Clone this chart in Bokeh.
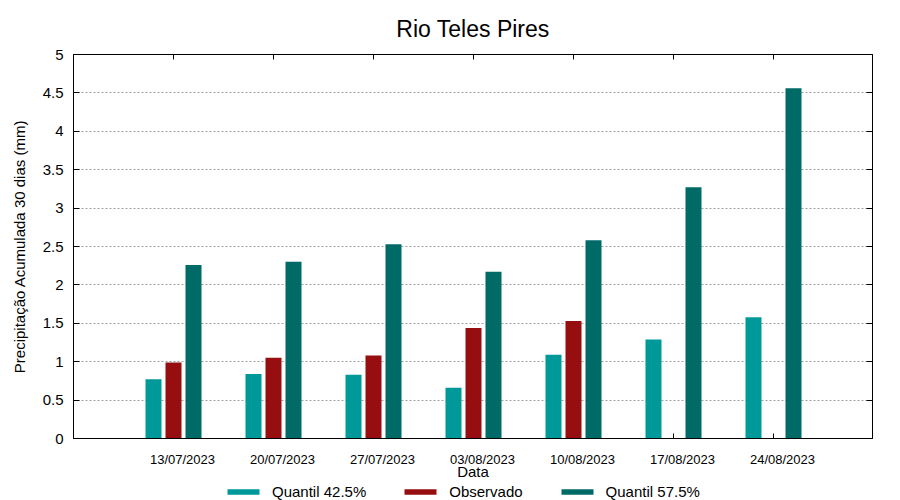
import numpy as np
from bokeh.plotting import figure
from bokeh.layouts import column
from bokeh.models import (Range1d, LinearAxis, FixedTicker, Legend, LegendItem,
                          CustomLabelingPolicy)
from bokeh.embed import file_html
from bokeh.resources import INLINE

# ---- data ----
title_text = "Rio Teles Pires"
dates = ["13/07/2023", "20/07/2023", "27/07/2023", "03/08/2023",
         "10/08/2023", "17/08/2023", "24/08/2023"]
quantil_425 = [0.77, 0.84, 0.83, 0.66, 1.09, 1.29, 1.58]
observado = [0.99, 1.05, 1.08, 1.44, 1.53, float("nan"), float("nan")]
quantil_575 = [2.26, 2.30, 2.53, 2.17, 2.58, 3.27, 4.56]
series_names = ["Quantil 42.5%", "Observado", "Quantil 57.5%"]
y_ticks = [0, 0.5, 1, 1.5, 2, 2.5, 3, 3.5, 4, 4.5, 5]
y_tick_labels = ["0", "0.5", "1", "1.5", "2", "2.5", "3", "3.5", "4", "4.5", "5"]
x_label = "Data"
y_label = "Precipitação Acumulada 30 dias (mm)"

FONT = "Liberation Sans"
COLORS = ["#009999", "#970e10", "#006a67"]
series_values = [quantil_425, observado, quantil_575]

x = np.arange(len(dates), dtype=float)
label_shift = 0.09
Y0, Y1 = 0, 5
tick_len = (Y1 - Y0) * 5 / 385.0
off = 0.2
w = 0.16
offsets = [-off, 0.0, off]

p = figure(width=900, height=482, output_backend="svg", toolbar_location=None,
           x_range=Range1d(-1.0, 6.99), y_range=Range1d(Y0, Y1),
           min_border_left=73, min_border_right=28, min_border_top=54,
           min_border_bottom=43, x_axis_label=x_label, y_axis_label=y_label)

p.title.text = title_text
p.title.text_font = FONT
p.title.text_font_size = "23px"
p.title.text_font_style = "normal"
p.title.text_color = "black"
p.title.align = "center"
p.title.standoff = 25

p.outline_line_color = "black"
p.outline_line_alpha = 1

# inner ticks at group centres on bottom and top borders
n = len(x)
p.segment(x0=x, y0=[Y0] * n, x1=x, y1=[Y0 + tick_len] * n,
          line_color="black", line_width=1)
p.segment(x0=x, y0=[Y1] * n, x1=x, y1=[Y1 - tick_len] * n,
          line_color="black", line_width=1)

for vals, col, o in zip(series_values, COLORS, offsets):
    p.vbar(x=x + o, top=vals, width=w, fill_color=col, line_color=None)

# x axis (below): labels only, shifted like the reference
xticks = [float(v + label_shift) for v in x]
p.xaxis.ticker = FixedTicker(ticks=xticks)
p.xaxis.major_label_overrides = {t: d for t, d in zip(xticks, dates)}
p.xaxis.major_tick_in = 0
p.xaxis.major_tick_out = 0
p.xaxis.minor_tick_line_color = None
p.xaxis.major_label_standoff = 13
p.xaxis.major_label_text_font = FONT
p.xaxis.major_label_text_font_size = "13px"
p.xaxis.major_label_text_color = "black"
p.xaxis.axis_label_text_font = FONT
p.xaxis.axis_label_text_font_size = "15px"
p.xaxis.axis_label_text_font_style = "normal"
p.xaxis.axis_label_text_color = "black"
p.xaxis.axis_label_standoff = -7
p.xaxis.axis_line_color = "black"

# y axis
p.yaxis.ticker = FixedTicker(ticks=y_ticks)
p.yaxis.major_label_overrides = {float(t): l for t, l in zip(y_ticks, y_tick_labels)}
p.yaxis.major_tick_in = 6
p.yaxis.major_tick_out = 0
p.yaxis.minor_tick_line_color = None
p.yaxis.major_label_standoff = 10
p.yaxis.major_label_text_font = FONT
p.yaxis.major_label_text_font_size = "15px"
p.yaxis.major_label_text_color = "black"
p.yaxis.axis_label_text_font = FONT
p.yaxis.axis_label_text_font_size = "15px"
p.yaxis.axis_label_text_font_style = "normal"
p.yaxis.axis_label_text_color = "black"
p.yaxis.axis_label_standoff = 12
p.yaxis.axis_line_color = "black"

# mirrored right axis with inner ticks, no labels
right_ax = LinearAxis(ticker=FixedTicker(ticks=y_ticks),
                      major_tick_in=6, major_tick_out=0,
                      minor_tick_line_color=None,
                      major_label_policy=CustomLabelingPolicy(code="return new Set()"),
                      major_label_standoff=0,
                      axis_line_color="black")
p.add_layout(right_ax, "right")

p.xgrid.visible = False
p.ygrid.ticker = FixedTicker(ticks=y_ticks)
p.ygrid.grid_line_color = "#a0a0a0"
p.ygrid.grid_line_dash = "2 2"
p.ygrid.grid_line_width = 1

# ---- legend strip under the chart ----
lg = figure(width=900, height=18, output_backend="svg", toolbar_location=None,
            x_axis_type=None, y_axis_type=None, min_border=0,
            x_range=Range1d(-1.0, 6.99), y_range=Range1d(Y0, Y1))
lg.outline_line_color = None
lg_items = []
for name, vals, col, o in zip(series_names, series_values, COLORS, offsets):
    r = lg.vbar(x=x + o, top=vals, width=w, fill_color=col, line_color=None,
                visible=False)
    lg_items.append(LegendItem(label=name, renderers=[r]))
legend = Legend(items=lg_items, orientation="horizontal", location=(150, 0),
                glyph_width=40, glyph_height=7, label_standoff=9,
                label_width=20, label_height=15, spacing=34,
                padding=0, margin=0, border_line_color=None,
                background_fill_alpha=0, inactive_fill_alpha=0,
                label_text_font=FONT, label_text_font_size="15px",
                label_text_color="black")
lg.add_layout(legend)

open("out.html", "w").write(file_html(column(p, lg, spacing=0), INLINE))
